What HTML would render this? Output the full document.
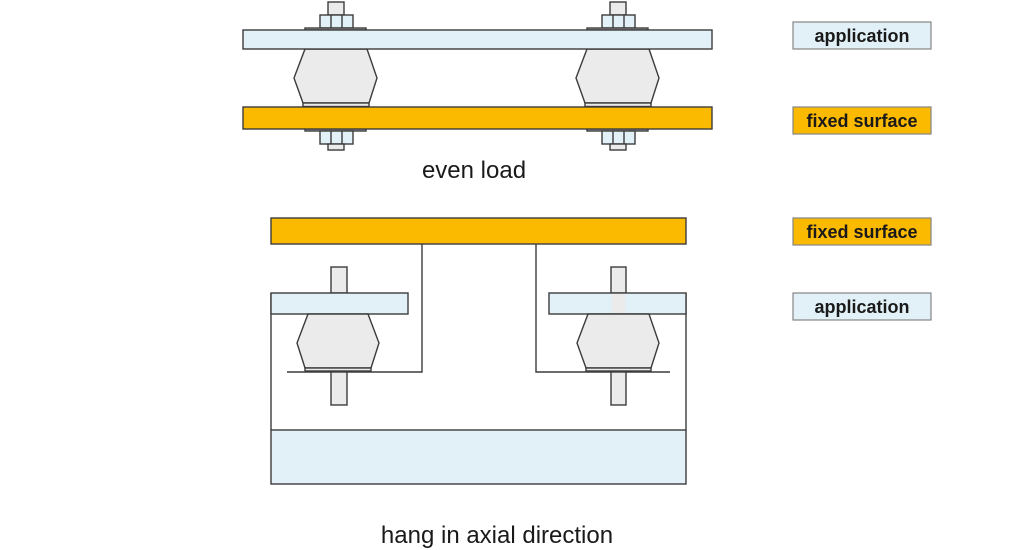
<!DOCTYPE html>
<html>
<head>
<meta charset="utf-8">
<style>
  html,body{margin:0;padding:0;background:#fff;}
  svg{display:block;}
  .lbl{font-family:"Liberation Sans",Arial,sans-serif;font-weight:bold;font-size:18px;fill:#1a1a1a;}
  .cap{font-family:"Liberation Sans",Arial,sans-serif;font-size:24px;fill:#1a1a1a;}
</style>
</head>
<body>
<svg width="1031" height="550" viewBox="0 0 1031 550" xmlns="http://www.w3.org/2000/svg">
  <g stroke="#3c3c3c" stroke-width="1.4" stroke-linejoin="miter">
    <!-- ===== TOP DIAGRAM ===== -->
    <!-- left mount -->
    <g id="mt">
      <rect x="328" y="2" width="16" height="13" fill="#ebebeb"/>
      <rect x="320" y="15" width="33" height="13" fill="#e2f1f7"/>
      <line x1="331" y1="15" x2="331" y2="28"/>
      <line x1="342" y1="15" x2="342" y2="28"/>
      <rect x="305" y="28" width="61" height="2" fill="#bdbdbd"/>
      <polygon points="305,49 367,49 377,78 369,103 303,103 294,78" fill="#ebebeb"/>
      <rect x="303" y="103" width="66" height="3.5" fill="#ebebeb"/>
      <rect x="305" y="129" width="61" height="2" fill="#bdbdbd"/>
      <rect x="320" y="131" width="33" height="13" fill="#e2f1f7"/>
      <line x1="331" y1="131" x2="331" y2="144"/>
      <line x1="342" y1="131" x2="342" y2="144"/>
      <rect x="328" y="144" width="16" height="6" fill="#ebebeb"/>
    </g>
    <!-- right mount -->
    <g transform="translate(282,0)">
      <rect x="328" y="2" width="16" height="13" fill="#ebebeb"/>
      <rect x="320" y="15" width="33" height="13" fill="#e2f1f7"/>
      <line x1="331" y1="15" x2="331" y2="28"/>
      <line x1="342" y1="15" x2="342" y2="28"/>
      <rect x="305" y="28" width="61" height="2" fill="#bdbdbd"/>
      <polygon points="305,49 367,49 377,78 369,103 303,103 294,78" fill="#ebebeb"/>
      <rect x="303" y="103" width="66" height="3.5" fill="#ebebeb"/>
      <rect x="305" y="129" width="61" height="2" fill="#bdbdbd"/>
      <rect x="320" y="131" width="33" height="13" fill="#e2f1f7"/>
      <line x1="331" y1="131" x2="331" y2="144"/>
      <line x1="342" y1="131" x2="342" y2="144"/>
      <rect x="328" y="144" width="16" height="6" fill="#ebebeb"/>
    </g>
    <rect x="243" y="30" width="469" height="19" fill="#e2f1f7"/>
    <rect x="243" y="107" width="469" height="22" fill="#fbb900"/>

    <!-- ===== BOTTOM DIAGRAM ===== -->
    <rect x="271" y="218" width="415" height="26" fill="#fbb900"/>
    <polyline points="422,244 422,372 287,372" fill="none"/>
    <polyline points="536,244 536,372 670,372" fill="none"/>
    <line x1="271" y1="293" x2="271" y2="430"/>
    <line x1="686" y1="293" x2="686" y2="430"/>
    <rect x="271" y="430" width="415" height="54" fill="#e2f1f7"/>

    <!-- left hanging mount -->
    <rect x="331" y="267" width="16" height="26" fill="#ebebeb"/>
    <rect x="331" y="372" width="16" height="33" fill="#ebebeb"/>
    <rect x="271" y="293" width="137" height="21" fill="#e2f1f7"/>
    <polygon points="308,314 368,314 379,343 371,368 305,368 297,343" fill="#ebebeb"/>
    <rect x="305" y="368" width="66" height="3" fill="#ebebeb"/>

    <!-- right hanging mount -->
    <rect x="611" y="267" width="15" height="26" fill="#ebebeb"/>
    <rect x="611" y="372" width="15" height="33" fill="#ebebeb"/>
    <rect x="549" y="293" width="137" height="21" fill="#e2f1f7"/>
    <rect x="611.5" y="294" width="14" height="19" fill="#ebebeb" stroke="none"/>
    <polygon points="588,314 649,314 659,343 651,368 586,368 577,343" fill="#ebebeb"/>
    <rect x="586" y="368" width="65" height="3" fill="#ebebeb"/>
  </g>

  <!-- legend boxes -->
  <g stroke="#858585" stroke-width="1.2">
    <rect x="793" y="22" width="138" height="27" fill="#e2f1f7"/>
    <rect x="793" y="107" width="138" height="27" fill="#fbb900"/>
    <rect x="793" y="218" width="138" height="27" fill="#fbb900"/>
    <rect x="793" y="293" width="138" height="27" fill="#e2f1f7"/>
  </g>
  <text class="lbl" x="862" y="42" text-anchor="middle">application</text>
  <text class="lbl" x="862" y="127" text-anchor="middle">fixed surface</text>
  <text class="lbl" x="862" y="238" text-anchor="middle">fixed surface</text>
  <text class="lbl" x="862" y="313" text-anchor="middle">application</text>

  <text class="cap" x="474" y="178" text-anchor="middle">even load</text>
  <text class="cap" x="497" y="543" text-anchor="middle">hang in axial direction</text>
</svg>
</body>
</html>
